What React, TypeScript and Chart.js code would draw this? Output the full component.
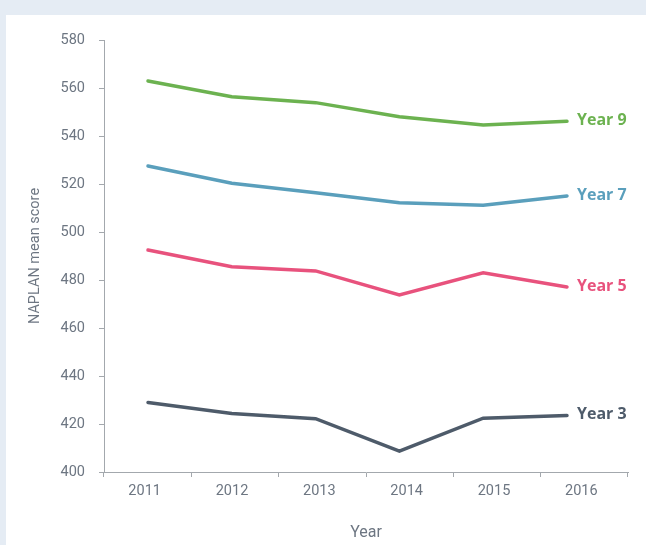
import React, { useEffect, useRef } from "react";
import { Chart, registerables } from "chart.js";

Chart.register(...registerables);

// ---- data ----
const years = ["2011", "2012", "2013", "2014", "2015", "2016"];
const year9 = [562.9, 556.4, 553.9, 548.0, 544.6, 546.1];
const year7 = [527.5, 520.3, 516.4, 512.2, 511.1, 515.0];
const year5 = [492.5, 485.5, 483.8, 473.8, 483.0, 477.1];
const year3 = [429.0, 424.4, 422.2, 408.7, 422.4, 423.5];
const seriesNames = ["Year 9", "Year 7", "Year 5", "Year 3"];
const yMin = 400;
const yMax = 580;
const yStep = 20;

const seriesColors = ["#6cb250", "#5a9fbc", "#e8527d", "#4e5b6a"];
const textGray = "#6d7682";
const axisGray = "#a3a8ad";

const endLabels = {
  id: "endLabels",
  afterDatasetsDraw(chart: any) {
    const ctx = chart.ctx;
    ctx.save();
    ctx.font = "700 16px 'Open Sans'";
    ctx.textAlign = "left";
    ctx.textBaseline = "middle";
    chart.data.datasets.forEach((ds: any, i: number) => {
      const meta = chart.getDatasetMeta(i);
      const pts = meta.data;
      const last = pts[pts.length - 1];
      if (!last) return;
      ctx.fillStyle = ds.borderColor;
      ctx.fillText(ds.label, last.x + 10, last.y - 1);
    });
    ctx.restore();
  },
};

export default function App() {
  const ref = useRef<HTMLCanvasElement | null>(null);

  useEffect(() => {
    document.body.style.margin = "0";
    const canvas = ref.current;
    if (!canvas) return;
    const allSeries = [year9, year7, year5, year3];
    const chart = new Chart(canvas, {
      type: "line",
      data: {
        labels: years,
        datasets: allSeries.map((vals, i) => ({
          label: seriesNames[i],
          data: vals.map((v, j) => ({ x: j, y: v })),
          borderColor: seriesColors[i],
          backgroundColor: seriesColors[i],
          borderWidth: 3.5,
          borderCapStyle: "round",
          pointRadius: 0,
          pointHoverRadius: 0,
          tension: 0,
          fill: false,
          xAxisID: "xl",
          yAxisID: "y",
        })),
      },
      options: {
        responsive: false,
        animation: false,
        devicePixelRatio: 1,
        layout: { padding: { left: 26.3, right: 18, top: 40, bottom: 2.4 } },
        plugins: {
          legend: { display: false },
          tooltip: { enabled: false },
          title: { display: false },
        },
        events: [],
        scales: {
          x: {
            type: "category",
            position: "bottom",
            offset: true,
            grid: {
              offset: true,
              drawOnChartArea: false,
              drawTicks: true,
              tickLength: 5,
              color: axisGray,
              lineWidth: 1,
            },
            border: { display: true, color: axisGray, width: 1 },
            ticks: {
              color: textGray,
              font: { family: "Roboto", size: 14.5 },
              padding: 6,
              labelOffset: -3,
              maxRotation: 0,
              autoSkip: false,
            },
            title: {
              display: true,
              text: "Year",
              color: textGray,
              font: { family: "Roboto", size: 16 },
              padding: { top: 0, bottom: 0 },
            },
            afterFit(scale: any) {
              scale.height = 70.6;
            },
          },
          xl: {
            type: "linear",
            display: false,
            min: -0.525,
            max: 5.728,
          },
          y: {
            type: "linear",
            position: "left",
            min: yMin,
            max: yMax,
            grid: {
              drawOnChartArea: false,
              drawTicks: true,
              tickLength: 5,
              color: axisGray,
              lineWidth: 1,
            },
            border: { display: true, color: axisGray, width: 1 },
            ticks: {
              stepSize: yStep,
              color: textGray,
              font: { family: "Roboto", size: 14.5 },
              padding: 14,
            },
            title: {
              display: true,
              text: "NAPLAN mean score",
              color: textGray,
              font: { family: "Roboto", size: 14.5 },
              padding: { top: 0, bottom: 0 },
            },
            afterFit(scale: any) {
              scale.width = 77.7;
            },
          },
        },
      } as any,
      plugins: [endLabels],
    });
    return () => chart.destroy();
  }, []);

  return (
    <div
      style={{
        position: "fixed",
        left: 0,
        top: 0,
        width: 646,
        height: 545,
        background: "#e5ecf4",
        overflow: "hidden",
      }}
    >
      <div
        style={{
          position: "absolute",
          left: 6,
          top: 15,
          width: 640,
          height: 530,
          background: "#ffffff",
        }}
      />
      <canvas
        ref={ref}
        width={646}
        height={545}
        style={{ position: "absolute", left: 0, top: 0, width: 646, height: 545 }}
      />
    </div>
  );
}
